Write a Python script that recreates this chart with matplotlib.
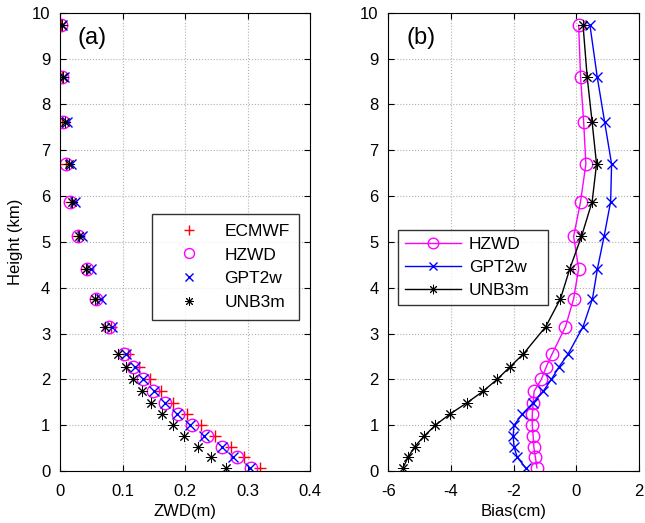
import numpy as np
import matplotlib
matplotlib.use('Agg')
from matplotlib import pyplot as plt

plt.rcParams['font.family'] = ['Liberation Sans', 'DejaVu Sans']
plt.rcParams['font.size'] = 12
plt.rcParams['axes.unicode_minus'] = False

height = [0.07, 0.30, 0.53, 0.76, 1.00, 1.24, 1.49, 1.74, 2.00, 2.28,
          2.55, 3.15, 3.76, 4.42, 5.12, 5.88, 6.70, 7.61, 8.61, 9.73]

# ZWD (m)
zwd_ecmwf = [0.320, 0.294, 0.273, 0.248, 0.226, 0.203, 0.181, 0.162, 0.144, 0.126,
             0.109, 0.081, 0.059, 0.043, 0.028, 0.017, 0.010, 0.004, 0.003, 0.002]
zwd_hzwd = [0.306, 0.283, 0.259, 0.235, 0.211, 0.189, 0.168, 0.149, 0.132, 0.117,
            0.102, 0.078, 0.058, 0.043, 0.028, 0.016, 0.009, 0.005, 0.003, 0.002]
zwd_gpt2w = [0.303, 0.277, 0.259, 0.230, 0.208, 0.187, 0.168, 0.150, 0.133, 0.120,
             0.106, 0.083, 0.065, 0.049, 0.035, 0.024, 0.018, 0.011, 0.006, 0.004]
zwd_unb3m = [0.265, 0.242, 0.220, 0.199, 0.181, 0.163, 0.146, 0.131, 0.116, 0.105,
             0.092, 0.072, 0.056, 0.041, 0.030, 0.019, 0.015, 0.008, 0.005, 0.003]

# bias (cm)
bias_hzwd = [-1.26, -1.31, -1.36, -1.38, -1.41, -1.41, -1.38, -1.35, -1.12, -0.96,
             -0.78, -0.35, -0.09, 0.07, -0.09, 0.13, 0.30, 0.23, 0.13, 0.07]
bias_gpt2w = [-1.62, -1.89, -1.99, -2.02, -1.99, -1.73, -1.38, -1.06, -0.80, -0.55,
              -0.27, 0.21, 0.51, 0.67, 0.88, 1.09, 1.12, 0.90, 0.66, 0.43]
bias_unb3m = [-5.53, -5.37, -5.16, -4.86, -4.50, -4.04, -3.49, -2.98, -2.53, -2.11,
              -1.70, -0.98, -0.51, -0.21, 0.16, 0.50, 0.64, 0.50, 0.34, 0.21]

star = (8, 2, 0)

fig = plt.figure(figsize=(6.45, 5.23), dpi=100)
ax1 = fig.add_axes([0.093, 0.0994, 0.388, 0.876])
ax2 = fig.add_axes([0.602, 0.0994, 0.389, 0.876])

ms = 9
ax1.plot(zwd_ecmwf, height, '+', color='red', ms=ms, mew=1, label='ECMWF')
ax1.plot(zwd_hzwd, height, 'o', color='magenta', mfc='none', ms=ms, mew=1, label='HZWD')
ax1.plot(zwd_gpt2w, height, 'x', color='blue', ms=7, mew=1, label='GPT2w')
ax1.plot(zwd_unb3m, height, ls='none', marker=star, color='black', ms=8, mew=0.7, label='UNB3m')
ax1.set_xlim(0, 0.4)
ax1.set_xticks([0, 0.1, 0.2, 0.3, 0.4])
ax1.set_xticklabels(['0', '0.1', '0.2', '0.3', '0.4'])
ax1.set_xlabel('ZWD(m)', labelpad=4)
ax1.set_ylabel('Height (km)', labelpad=6)
ax1.text(0.13, 0.945, '(a)', transform=ax1.transAxes, fontsize=17, ha='center', va='center')
leg1 = ax1.legend(loc='upper right', bbox_to_anchor=(0.956, 0.561), fancybox=False,
                  edgecolor='black', fontsize=12.5, borderpad=0.55, labelspacing=0.5,
                  handlelength=3.2, handletextpad=0.45, borderaxespad=0, markerscale=0.8)

ax2.plot(bias_hzwd, height, '-o', color='magenta', mfc='none', ms=ms, mew=1, lw=1, label='HZWD')
ax2.plot(bias_gpt2w, height, '-x', color='blue', ms=7, mew=1, lw=1, label='GPT2w')
ax2.plot(bias_unb3m, height, '-', marker=star, color='black', ms=8, mew=0.7, lw=1, label='UNB3m')
ax2.set_xlim(-6, 2)
ax2.set_xticks([-6, -4, -2, 0, 2])
ax2.set_xlabel('Bias(cm)', labelpad=4)
ax2.text(0.13, 0.945, '(b)', transform=ax2.transAxes, fontsize=17, ha='center', va='center')
ax2.legend(loc='upper left', bbox_to_anchor=(0.04, 0.0, 0.597, 0.526), mode='expand',
           fancybox=False, edgecolor='black', fontsize=12.5, borderpad=0.4,
           labelspacing=0.45, handlelength=3.2, handletextpad=0.45, borderaxespad=0,
           markerscale=0.85)

for ax in (ax1, ax2):
    ax.set_ylim(0, 10)
    ax.set_yticks(range(11))
    ax.grid(True, ls=':', color='#b0b0b0', lw=0.8)
    ax.tick_params(direction='in', top=True, right=True, labelsize=12, length=4)
    ax.tick_params(axis='x', pad=9)
    ax.tick_params(axis='y', pad=7)

fig.savefig('out.png', dpi=100)
